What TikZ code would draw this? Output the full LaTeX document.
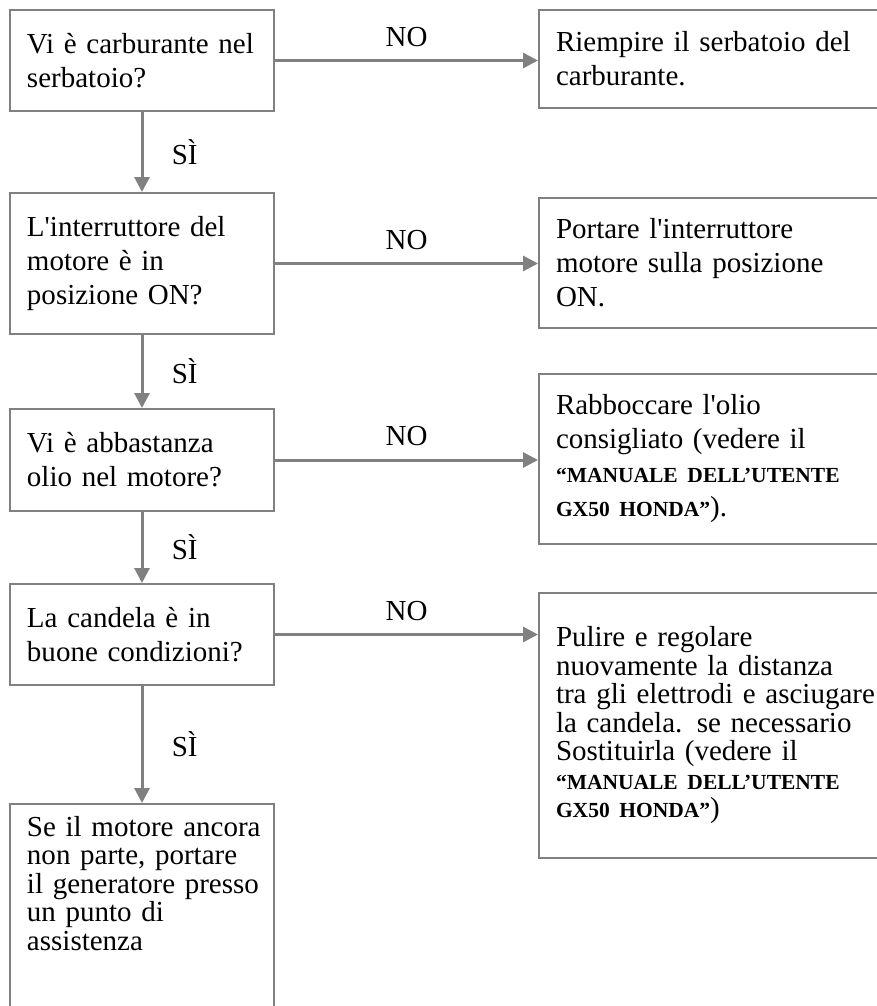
\documentclass[tikz,border=0pt]{standalone}
\usepackage{fontspec}
\setmainfont{Liberation Serif}[Ligatures=TeXOff]
\usetikzlibrary{arrows.meta,positioning}
\definecolor{grigio}{RGB}{128,128,128}
\hyphenpenalty=10000
\exhyphenpenalty=10000
\newcommand{\giusta}[2][230pt]{\makebox[#1][s]{#2}}
\newcommand{\manuale}[1]{{\fontsize{21.5}{21.5}\selectfont\bfseries #1}}
\tikzset{
    caja/.style={draw=grigio, line width=2pt, anchor=north west, align=left,
        inner xsep=17pt, font=\fontsize{29}{34}\selectfont},
    izq/.style={caja, text width=230pt, minimum width=264pt},
    der/.style={caja, text width=310pt, minimum width=344pt},
    flecha/.style={draw=grigio, line width=3pt, -{Triangle[length=15pt,width=15pt]}},
    etiqueta/.style={font=\fontsize{29}{34}\selectfont}
}
\begin{document}
\begin{tikzpicture}[x=1pt, y=-1pt]
                \useasboundingbox (0,0) rectangle (877,1006);
                % Preguntas (columna izquierda)
                \node[izq, minimum height=101pt] (q1) at (9,9) {\giusta{Vi è carburante nel}\\ serbatoio?};
                \node[izq, minimum height=141pt] (q2) at (9,192) {\giusta{L'interruttore del}\\ \giusta{motore è in}\\ posizione ON?};
                \node[izq, minimum height=102pt] (q3) at (9,408) {\giusta{Vi è abbastanza}\\ olio nel motore?};
                \node[izq, minimum height=101pt] (q4) at (9,583) {La candela è in\\ \mbox{buone condizioni?}};
                \node[izq, inner ysep=12pt, font=\fontsize{29}{28.5}\selectfont] (fine) at (9,803)
                    {\mbox{Se il motore ancora}\\ \mbox{non parte, portare}\\ \mbox{il generatore presso}\\ un punto di\\ assistenza\rule[-120pt]{0pt}{0pt}};
                
                % Acciones (columna derecha)
                \node[der, minimum height=98pt] (r1) at (538,9) {\giusta[310pt]{Riempire il serbatoio del}\\ carburante.};
                \node[der, minimum height=130pt] (r2) at (538,197) {Portare l'interruttore\\ \mbox{motore sulla posizione}\\ ON.};
                \node[der, minimum height=170pt] (r3) at (538,373)
                    {Rabboccare l'olio\\ \mbox{consigliato (vedere il}\\ \manuale{“MANUALE DELL’UTENTE}\\ \manuale{GX50 HONDA”}).};
                \node[der, minimum height=265pt, font=\fontsize{29}{28.5}\selectfont] (r4) at (538,592)
                    {Pulire e regolare\\ \mbox{nuovamente la distanza}\\ \mbox{tra gli elettrodi e asciugare}\\ \mbox{la candela. se necessario}\\ \mbox{Sostituirla (vedere il}\\ \manuale{“MANUALE DELL’UTENTE}\\ \manuale{GX50 HONDA”})};
                
                % Flechas NO
                \foreach \i in {1,...,4}
                    \draw[flecha] (q\i.east) -- node[midway, above=9pt, etiqueta] {NO} (q\i.east -| r\i.west);
                
                % Flechas SÌ
                \foreach \a/\b in {q1/q2, q2/q3, q3/q4, q4/fine}
                    \draw[flecha] (\a) -- node[midway, right=25pt, etiqueta] {SÌ} (\b);
            \end{tikzpicture}
\end{document}
